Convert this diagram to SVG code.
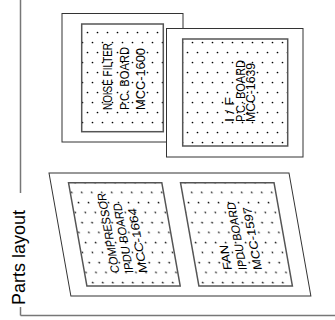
<svg xmlns="http://www.w3.org/2000/svg" width="335" height="320" viewBox="0 0 335 320">
<style>
.frame{stroke:#777;stroke-width:1.5;fill:none}
.outer{fill:#fff;stroke:#333;stroke-width:1}
.inner{fill:url(#dots);stroke:#555;stroke-width:1.5}
.lbl{font-family:"Liberation Sans",Arial,sans-serif;font-size:12px;fill:#000}
.title{font-family:"Liberation Sans",Arial,sans-serif;font-size:18px;fill:#000}
</style>
<defs>
<pattern id="dots" patternUnits="userSpaceOnUse" width="20" height="20">
<rect width="20" height="20" fill="#fff"/>
<circle cx="2.5" cy="2.5" r="0.85" fill="#000"/>
<circle cx="12.5" cy="2.5" r="0.85" fill="#000"/>
<circle cx="7.5" cy="12.5" r="0.85" fill="#000"/>
<circle cx="17.5" cy="12.5" r="0.85" fill="#000"/>
</pattern>
</defs>
<g id="frame">
<line class="frame" x1="20.5" y1="0" x2="20.5" y2="193"/>
<line class="frame" x1="20.5" y1="307" x2="20.5" y2="315.5"/>
<line class="frame" x1="20.5" y1="315.5" x2="335" y2="315.5"/>
<text class="title" transform="translate(25,305) rotate(-90)">Parts layout</text>
</g>
<g id="noise-filter-board">
<rect class="outer" x="62" y="13.5" width="121" height="128.5"/>
<rect class="inner" x="81.7" y="24" width="81.6" height="107.7"/>
<text class="lbl" transform="translate(112,110) rotate(-90)" textLength="67" lengthAdjust="spacingAndGlyphs">NOISE FILTER</text>
<text class="lbl" transform="translate(128.5,110) rotate(-90)" textLength="63" lengthAdjust="spacingAndGlyphs">P.C. BOARD</text>
<text class="lbl" transform="translate(145,110) rotate(-90)" textLength="62" lengthAdjust="spacingAndGlyphs">MCC-1600</text>
</g>
<g id="if-board">
<rect class="outer" x="166.5" y="28.5" width="136.5" height="128.5"/>
<rect class="inner" x="182.7" y="39" width="105" height="107"/>
<text class="lbl" transform="translate(234,122) rotate(-90)" textLength="25" lengthAdjust="spacingAndGlyphs">I / F</text>
<text class="lbl" transform="translate(244.5,122) rotate(-90)" textLength="62" lengthAdjust="spacingAndGlyphs">P.C. BOARD</text>
<text class="lbl" transform="translate(255,122) rotate(-90)" textLength="59" lengthAdjust="spacingAndGlyphs">MCC-1639</text>
</g>
<g id="ipdu-assembly" transform="matrix(1,0,0.178,1,0,0)">
<rect class="outer" x="18.2" y="173" width="240" height="123"/>
<g id="compressor-board">
<rect class="inner" x="36" y="182.7" width="93.3" height="103.3"/>
<text class="lbl" transform="translate(71,273) rotate(-90)" textLength="80" lengthAdjust="spacingAndGlyphs">COMPRESSOR</text>
<text class="lbl" transform="translate(85,273) rotate(-90)" textLength="70" lengthAdjust="spacingAndGlyphs">IPDU BOARD</text>
<text class="lbl" transform="translate(99,273) rotate(-90)" textLength="65" lengthAdjust="spacingAndGlyphs">MCC-1664</text>
</g>
<g id="fan-board">
<rect class="inner" x="148" y="182.7" width="93.5" height="103.3"/>
<text class="lbl" transform="translate(184,270) rotate(-90)" textLength="25" lengthAdjust="spacingAndGlyphs">FAN</text>
<text class="lbl" transform="translate(199,270) rotate(-90)" textLength="68" lengthAdjust="spacingAndGlyphs">IPDU BOARD</text>
<text class="lbl" transform="translate(214,270) rotate(-90)" textLength="63" lengthAdjust="spacingAndGlyphs">MCC-1597</text>
</g>
</g>
<g id="connectors"/>
</svg>
